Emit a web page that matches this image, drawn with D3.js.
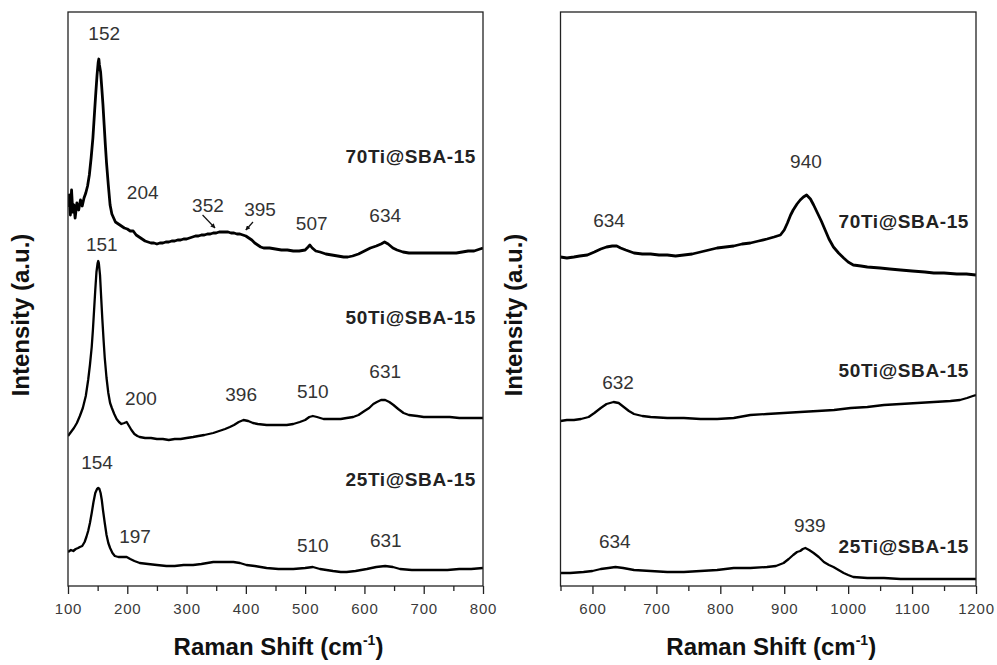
<!DOCTYPE html>
<html>
<head>
<meta charset="utf-8">
<script src="https://cdn.jsdelivr.net/npm/d3@7"></script>
<style>
  body { margin: 0; background: #fff; }
  text { font-family: "Liberation Sans", Arial, sans-serif; }
</style>
</head>
<body>
<div id="chart"></div>
<script>
// Raman spectra, [shift cm-1, intensity a.u.] (offsets included)
const ti70Low = [[100,379],[102,391],[104,371],[106,396],[108,374],[110,381],[112,368],[115,383],[118,376],[121,386],
  [124,380],[127,388],[130,393],[133,400],[136,411],[139,428],[142,448],[145,476],[147,494],[149,511],[151,524],[152,527],
  [153,521],[155,514],[157,498],[159,481],[161,461],[163,441],[165,423],[168,401],[171,381],[174,372],[177,368],[180,364],
  [185,362],[190,360],[195,358],[200,357],[205,355],[210,355],[215,351],[220,349],[225,347],[230,345],[235,344],[240,343],
  [245,343],[250,342],[255,343],[260,343],[265,344],[270,344],[275,345],[280,345],[285,346],[290,346],[295,347],[300,347],
  [305,348],[310,349],[315,350],[320,350],[325,351],[330,351],[335,352],[340,352],[345,353],[350,353],[355,354],[360,354],
  [365,354],[370,354],[375,353],[380,353],[385,352],[390,352],[395,351],[400,350],[405,348],[410,346],[415,343],[420,341],
  [425,339],[430,338],[440,338],[450,337],[460,336],[470,336],[480,335],[490,335],[500,336],[505,339],[508,341],[512,338],
  [518,335],[525,334],[535,332],[545,331],[555,330],[565,329],[572,329],[580,330],[590,332],[600,335],[610,338],[620,340],
  [628,342],[634,344],[640,342],[648,338],[655,336],[665,334],[675,333],[685,333],[695,333],[705,333],[715,333],[725,333],
  [735,333],[745,333],[755,333],[765,334],[775,335],[785,335],[795,337],[800,338]];

const ti50Low = [[100,150],[105,154],[110,158],[115,163],[120,170],[125,178],[130,190],[134,206],[137,221],[140,239],
  [142,256],[144,276],[146,296],[148,314],[150,323],[151,325],[152,323],[154,311],[156,288],[158,266],[160,246],[162,228],
  [165,208],[168,193],[171,183],[174,178],[178,172],[182,167],[186,164],[190,162],[195,163],[199,164],[203,160],[207,156],
  [212,152],[217,150],[221,149],[230,148],[240,148],[250,147],[260,147],[270,146],[280,147],[290,147],[300,148],[311,149],
  [320,150],[330,151],[345,153],[355,155],[365,157],[373,159],[380,161],[388,164],[396,166],[404,165],[412,163],[420,162],
  [435,161],[450,161],[469,161],[480,162],[491,164],[500,166],[507,169],[513,170],[520,169],[531,167],[545,167],[560,167],
  [570,168],[581,169],[590,171],[600,175],[608,178],[615,182],[621,184],[628,186],[635,186],[642,184],[649,181],[657,177],
  [666,173],[675,171],[689,170],[700,169],[720,169],[744,169],[760,168],[780,168],[800,168]];

const ti25Low = [[100,34],[105,36],[109,35],[113,37],[117,38],[120,39],[124,40],[128,44],[131,49],[134,55],[137,63],
  [140,73],[143,84],[146,93],[149,97],[151,98],[153,97],[155,93],[157,86],[159,76],[162,63],[165,51],[168,43],[171,38],
  [175,33],[179,30],[185,29],[192,29],[199,29],[205,27],[212,25],[221,23],[235,22],[250,21],[266,20],[280,20],[295,21],
  [311,21],[325,22],[345,24],[362,24],[379,24],[390,23],[401,21],[415,20],[435,18],[455,17],[480,17],[500,18],[513,19],
  [525,17],[547,15],[560,14],[570,14],[585,15],[604,17],[620,19],[635,20],[648,19],[660,17],[680,16],[700,16],[716,16],
  [740,16],[760,17],[780,17],[800,18]];

const ti70High = [[550,329],[560,328],[571,329],[580,330],[592,331],[603,334],[613,337],[622,339],[631,340],[638,340],
  [644,338],[652,336],[665,333],[678,332],[691,332],[704,331],[717,331],[730,330],[743,331],[756,332],[769,334],[782,336],
  [795,338],[808,339],[821,340],[834,342],[847,343],[860,345],[873,347],[884,349],[894,351],[900,356],[905,363],[910,371],
  [914,376],[920,382],[925,386],[930,389],[935,391],[941,387],[946,381],[952,373],[958,365],[964,356],[970,347],[977,339],
  [985,333],[993,328],[1000,324],[1008,321],[1020,320],[1030,319],[1050,318],[1065,317],[1082,316],[1100,315],[1120,314],
  [1134,313],[1150,313],[1170,312],[1185,312],[1200,311]];

const ti50High = [[550,165],[560,166],[571,166],[582,167],[594,169],[603,173],[613,178],[622,182],[633,184],[641,183],
  [649,179],[657,175],[665,172],[678,170],[691,169],[717,168],[743,168],[769,167],[795,167],[821,168],[847,171],[873,172],
  [899,173],[925,174],[952,175],[978,176],[1004,178],[1030,179],[1056,181],[1082,182],[1108,183],[1134,184],[1160,185],
  [1175,186],[1186,188],[1195,190],[1200,191]];

const ti25High = [[550,13],[565,13],[586,14],[600,15],[613,17],[625,18],[636,19],[648,18],[665,16],[691,15],[717,14],
  [743,14],[769,15],[795,16],[821,18],[847,18],[873,19],[887,20],[899,23],[907,27],[914,31],[920,34],[925,35],[929,37],
  [933,38],[939,36],[946,33],[954,29],[962,24],[970,21],[977,19],[985,16],[993,13],[1000,11],[1008,9],[1030,8],[1056,8],
  [1082,7],[1108,7],[1150,7],[1200,7]];

const ticksLow = [100, 200, 300, 400, 500, 600, 700, 800];
const ticksHigh = [600, 700, 800, 900, 1000, 1100, 1200];

// peak labels: [text, shift, intensity]
const peaksLow = [["152",161,546],["204",226,387],["352",336,374],["395",424,370],["507",511,356],["634",635,364],
  ["151",157,335],["200",223,181],["396",392,185],["510",513,188],["631",635,208],
  ["154",149,117],["197",213,43],["510",513,34],["631",636,39]];
const peaksHigh = [["940",934,418],["634",626,359],["632",640,197],["939",940,54],["634",635,38]];

const samplesLow = [["70Ti@SBA-15",423],["50Ti@SBA-15",262],["25Ti@SBA-15",100]];
const samplesHigh = [["70Ti@SBA-15",358],["50Ti@SBA-15",209],["25Ti@SBA-15",33]];

// arrows near the broad band: [fromShift, fromInt, toShift, toInt]
const arrowsLow = [[327,371,348,358],[412,364,400,356]];

const width = 997, height = 665;
const plotTop = 12, plotBottom = 586;

const svg = d3.select("#chart").append("svg")
  .attr("width", width).attr("height", height);

svg.append("defs").append("marker")
  .attr("id", "head").attr("viewBox", "0 0 10 10")
  .attr("refX", 9).attr("refY", 5)
  .attr("markerWidth", 4).attr("markerHeight", 4)
  .attr("orient", "auto")
  .append("path").attr("d", "M0,0L10,5L0,10z").attr("fill", "#111");

function panel(id, left, right, domain, ticks, series, peaks, samples, arrows) {
  const x = d3.scaleLinear().domain(domain).range([left, right]);
  const y = d3.scaleLinear().domain([0, plotBottom - plotTop]).range([plotBottom, plotTop]);
  const g = svg.append("g").attr("id", id);

  g.append("clipPath").attr("id", id + "clip")
    .append("rect").attr("x", left).attr("y", plotTop).attr("width", right - left).attr("height", plotBottom - plotTop);

  const line = d3.line().x(d => x(d[0])).y(d => y(d[1]));
  g.append("g").attr("clip-path", `url(#${id}clip)`)
    .selectAll("path").data(series).enter().append("path")
    .attr("d", line)
    .attr("fill", "none").attr("stroke", "#000")
    .attr("stroke-width", (d, i) => i === 0 ? 2.8 : 2.3).attr("stroke-linejoin", "round");

  // minor ticks
  const minor = d3.range(domain[0], domain[1] + 1, 50).filter(v => ticks.indexOf(v) === -1);
  g.append("g").attr("transform", `translate(0,${plotBottom})`)
    .call(d3.axisBottom(x).tickValues(minor).tickSize(5).tickFormat(""))
    .call(a => a.select(".domain").remove())
    .selectAll("line").attr("stroke", "#222").attr("stroke-width", 1.3);

  const ax = g.append("g").attr("transform", `translate(0,${plotBottom})`)
    .call(d3.axisBottom(x).tickValues(ticks).tickSize(8).tickPadding(9).tickFormat(d3.format("d")));
  ax.select(".domain").remove();
  ax.selectAll("line").attr("stroke", "#222").attr("stroke-width", 1.3);
  ax.selectAll("text").attr("font-size", 15).attr("fill", "#3a3a3a")
    .attr("font-family", "'Liberation Sans', Arial, sans-serif").attr("letter-spacing", "0.8px");

  g.append("rect").attr("x", left).attr("y", plotTop)
    .attr("width", right - left).attr("height", plotBottom - plotTop)
    .attr("fill", "none").attr("stroke", "#222").attr("stroke-width", 1.3);

  g.selectAll(".peak").data(peaks).enter().append("text")
    .attr("class", "peak")
    .attr("x", d => x(d[1])).attr("y", d => y(d[2]))
    .attr("text-anchor", "middle").attr("font-size", 19).attr("fill", "#333")
    .text(d => d[0]);

  g.selectAll(".sample").data(samples).enter().append("text")
    .attr("class", "sample")
    .attr("x", right - 7).attr("y", d => y(d[1]))
    .attr("text-anchor", "end").attr("font-size", 19).attr("font-weight", "bold").attr("fill", "#222")
    .attr("letter-spacing", "0.6px")
    .text(d => d[0]);

  g.selectAll(".arrow").data(arrows).enter().append("line")
    .attr("x1", d => x(d[0])).attr("y1", d => y(d[1]))
    .attr("x2", d => x(d[2])).attr("y2", d => y(d[3]))
    .attr("stroke", "#111").attr("stroke-width", 1.2)
    .attr("marker-end", "url(#head)");

  const xt = g.append("text")
    .attr("x", (left + right) / 2 + 3).attr("y", 655)
    .attr("text-anchor", "middle").attr("font-size", 24).attr("font-weight", "bold").attr("fill", "#111");
  xt.append("tspan").text("Raman Shift (cm");
  xt.append("tspan").attr("font-size", 14).attr("dy", -10).text("-1");
  xt.append("tspan").attr("dy", 10).text(")");

  g.append("text")
    .attr("transform", `translate(${left - 39},${315}) rotate(-90)`)
    .attr("text-anchor", "middle").attr("font-size", 24).attr("font-weight", "bold").attr("fill", "#111")
    .text("Intensity (a.u.)");
}

panel("low", 68, 483, [100, 800], ticksLow, [ti70Low, ti50Low, ti25Low], peaksLow, samplesLow, arrowsLow);
panel("high", 560.5, 976, [550, 1200], ticksHigh, [ti70High, ti50High, ti25High], peaksHigh, samplesHigh, []);
</script>
</body>
</html>
